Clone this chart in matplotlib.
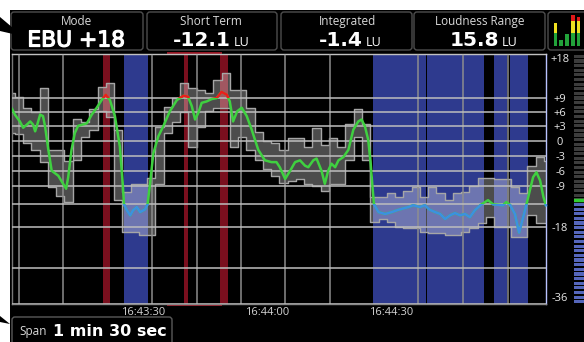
import numpy as np
import matplotlib
matplotlib.use('Agg')
import matplotlib.pyplot as plt
import matplotlib.patheffects as pe
from matplotlib.patches import Rectangle, FancyBboxPatch, Polygon

W, H = 584, 342
plt.rcParams['font.family'] = ['Open Sans', 'DejaVu Sans']

# ---------------- data ----------------
mode_label = "EBU +18"
short_term = -12.1
integrated = -1.4
loudness_range = 15.8
span_text = "1 min 30 sec"

gate_level = -13.0      # below: blue
over_level = 9.0        # above: red

# loudness curve (seconds relative to 16:43:30, LU)
line_t = [-31.7, -31.0, -29.8, -29.0, -28.1, -27.3, -26.6, -26.1, -25.7, -24.9, -24.2, -23.7,
          -22.9, -22.1, -20.5, -19.3, -18.6, -18.1, -17.3, -16.5, -15.7, -13.6, -12.4, -11.2,
          -10.0, -9.0, -8.0, -6.8, -5.6, -4.9, -4.6, -3.9, -3.1, -2.4, -1.5, -0.7, 0.5, 1.1,
          1.7, 2.5, 3.7, 4.9, 6.5, 8.2, 9.8, 10.9, 11.8, 12.6, 13.4, 14.2, 15.4, 16.6, 17.8,
          19.0, 20.3, 21.0, 21.8, 22.8, 23.9, 25.1, 26.3, 27.9, 29.5, 31.1, 32.3, 33.1, 34.4,
          35.6, 36.8, 38.0, 39.2, 40.0, 41.2, 42.0, 43.2, 44.0, 44.8, 45.6, 46.5, 47.3, 48.5,
          49.7, 50.9, 52.1, 52.9, 53.7, 54.5, 55.1, 55.6, 55.9, 57.0, 58.6, 60.2, 61.8, 63.0,
          64.2, 65.4, 67.0, 68.2, 69.4, 70.7, 71.9, 73.1, 74.3, 75.5, 76.7, 77.9, 79.1, 80.3,
          81.9, 83.5, 84.7, 85.9, 87.1, 87.9, 88.8, 90.0, 91.0, 92.0, 92.8, 93.6, 94.4, 95.2,
          96.1, 96.9, 97.5]
line_v = [6.6, 5.4, 4.0, 2.7, 3.35, 4.0, 3.35, 1.95, 3.0, 5.4, 5.1, 3.0,
          -1.8, -5.9, -6.9, -8.6, -9.6, -7.2, -1.8, 1.6, 3.1, 3.6, 5.4, 6.85,
          8.5, 9.6, 8.5, 5.1, -1.15, -8.55, -13.0, -14.3, -15.4, -14.3, -13.6, -14.7, -14.1, -13.0,
          -8.55, -2.5, 0.9, 3.0, 6.1, 8.5, 9.4, 9.2, 7.2, 4.4, 5.8, 7.9, 8.2, 8.7, 8.9,
          10.2, 9.6, 8.2, 4.0, 6.1, 6.85, 5.1, 2.3, -1.8, -3.85, -4.2, -4.2, -5.2, -7.55,
          -5.9, -4.2, -3.85, -4.9, -5.2, -3.85, -3.5, -5.9, -8.55, -5.9, -4.5, -5.2, -3.85, -3.2,
          -1.8, 2.3, 4.0, 4.4, 3.0, 0.2, -4.5, -10.0, -13.0, -14.7, -15.1, -14.7, -14.2, -13.9,
          -13.6, -13.2, -13.6, -13.2, -14.2, -14.7, -15.1, -16.2, -15.4, -14.9, -15.4, -15.1, -15.8, -14.3,
          -13.0, -12.1, -13.0, -13.1, -13.2, -12.5, -13.1, -15.1, -19.3, -15.8, -13.0, -10.0, -7.2, -6.2,
          -7.9, -11.4, -13.2]

# min/max envelope (2 s steps)
band_t = [-32, -30, -28, -26, -24, -22, -20, -18, -16, -14, -12, -10, -8, -6, -4, -2, 0, 2, 4, 6,
          8, 10, 12, 14, 16, 18, 20, 22, 24, 26, 28, 30, 32, 34, 36, 38, 40, 42, 44, 46,
          48, 50, 52, 54, 56, 58, 60, 62, 64, 66, 68, 70, 72, 74, 76, 78, 80, 82, 84, 86,
          88, 90, 92, 94, 96, 98]
band_hi = [10.0, 9.1, 6.9, 5.9, 11.0, -1.8, -1.8, -3.9, 4.4, 3.8, 6.5, 11.2, 12.0, 2.3, -10.4, -8.5, -8.5, -7.3, 2.9, 7.1,
           8.9, 12.0, 11.0, 10.6, 10.0, 12.6, 14.1, 10.6, 10.6, 6.9, 1.9, 0.0, -0.4, -1.8, 0.6, 0.6, -1.2, 2.7, -0.8, 0.6,
           -1.2, 3.4, 6.5, 3.4, -11.5, -11.5, -10.6, -11.5, -10.0, -9.3, -11.5, -9.3, -10.6, -12.1, -10.6, -10.4, -8.9, -7.3, -7.3, -7.5,
           -7.5, -9.3, -10.6, -4.9, -3.2, -3.9]
band_lo = [1.7, 1.3, -0.4, -1.8, -4.25, -9.3, -11.1, -12.6, -3.85, 0.8, 2.3, 6.1, 5.0, -12.1, -19.2, -19.2, -19.9, -19.9, -8.5, 1.7,
           3.8, 5.9, -1.2, 2.9, 6.1, 6.9, 6.9, -1.2, 0.8, -1.8, -3.85, -5.5, -6.9, -8.3, -7.9, -7.5, -8.5, -8.9, -10.0, -8.5,
           -8.5, -3.85, 0.8, -3.85, -16.9, -16.1, -16.9, -18.0, -18.2, -18.2, -19.2, -19.4, -19.4, -19.9, -19.9, -19.2, -18.2, -17.0, -15.8, -18.0,
           -18.0, -20.4, -20.4, -15.4, -17.0, -17.0]

# highlighted time regions (start, end) in seconds
quiet_regions = [(-4.7, 1.1), (55.65, 68.5), (68.8, 82.5), (84.9, 88.2), (88.8, 93.2)]
loud_regions = [(-9.6, -8.0), (9.9, 10.9), (18.6, 20.6)]
loud_marker_range = (5.8, 19.1)

# axis ticks
y_ticks = [18, 9, 6, 3, 0, -3, -6, -9, -18, -36]
y_tick_labels = ['+18', '+9', '+6', '+3', '0', '-3', '-6', '-9', '-18', '-36']
y_extra_grid = [-13, -28]
x_ticks = [0, 30, 60]
x_tick_labels = ['16:43:30', '16:44:00', '16:44:30']
x_grid = [-30.0, -19.4, 2.2, 13.1, 23.7, 34.4, 45.2, 66.5, 77.4, 88.3]
x_range = (-31.7, 97.4)

# channel bars (fraction of meter height)
channel_levels = [0.72, 0.19, 0.375, 0.96, 0.90]

# ---------------- scale (EBU +18 display, non-uniform) ----------------
LU_KNOTS = [-36, -28, -18, -13, -9, -6, -3, 0, 3, 6, 9, 18]
POS_KNOTS = [-304, -268, -227.3, -204.3, -186, -171.3, -156, -140.7, -126.3, -111.7, -97.7, -54]


def fwd(v):
    return np.interp(np.asarray(v, dtype=float), LU_KNOTS, POS_KNOTS)


def inv(p):
    return np.interp(np.asarray(p, dtype=float), POS_KNOTS, LU_KNOTS)


fig = plt.figure(figsize=(W / 100, H / 100), dpi=100, facecolor='white')

# ---------------- background / frame axes in pixel coordinates ----------------
bg = fig.add_axes([0, 0, 1, 1])
bg.set_zorder(-1)
bg.set_xlim(0, W)
bg.set_ylim(H, 0)
bg.axis('off')
bg.add_patch(Rectangle((10, 10), W, H, facecolor='black', edgecolor='none'))

boxes = [(11, 143), (147, 277), (281, 412), (414, 545), (548, 600)]
for x0, x1 in boxes:
    bg.add_patch(FancyBboxPatch((x0, 12), x1 - x0, 38, boxstyle='round,pad=0,rounding_size=3',
                                facecolor='black', edgecolor='#4d4d4d', lw=1))

lab_col = '#d9d9d9'
NUM_FONT = ['DejaVu Sans']
bold_fx = [pe.withStroke(linewidth=0.9, foreground='white')]
bg.text(77, 21.5, 'Mode', color=lab_col, fontsize=8.5, ha='center', va='center')
bg.text(76, 46.5, mode_label, color='white', fontsize=15.7, ha='center', va='baseline',
        family=NUM_FONT, path_effects=bold_fx)

heads = [('Short Term', 211, short_term, 231), ('Integrated', 347, integrated, 363),
         ('Loudness Range', 480, loudness_range, 499)]
for title, cx, val, rx in heads:
    bg.text(cx, 21.5, title, color=lab_col, fontsize=8.5, ha='center', va='center')
    bg.text(rx, 46.5, f'{val:.1f}', color='white', fontsize=14.5, fontweight='bold',
            ha='right', va='baseline', family=NUM_FONT)
    bg.text(rx + 2.5, 46.5, 'LU', color='white', fontsize=9, ha='left', va='baseline')

# span box
bg.add_patch(FancyBboxPatch((12, 317), 160, 30, boxstyle='round,pad=0,rounding_size=3',
                            facecolor='black', edgecolor='#5a5a5a', lw=1))
bg.text(19, 331, 'Span', color=lab_col, fontsize=8.5, ha='left', va='center')
bg.text(53, 331, span_text, color='white', fontsize=11.5, fontweight='bold', ha='left', va='center',
        family=NUM_FONT)

# callout arrows
bg.add_patch(Polygon([(0, 17), (13, 28), (24, 32), (13, 34), (0, 31)], closed=True,
                     facecolor='black', edgecolor='none'))
bg.add_patch(Polygon([(0, 316), (10, 324), (0, 322)], closed=True, facecolor='black', edgecolor='none'))

# ---------------- main plot ----------------
ax = fig.add_axes([12 / W, 1 - 304 / H, (545.5 - 12) / W, 250 / H])
ax.set_facecolor('black')
ax.set_yscale('function', functions=(fwd, inv))
ax.set_ylim(-36, 18)
ax.set_xlim(*x_range)

for a, b in quiet_regions:
    ax.axvspan(a, b, color='#2e3a8e', lw=0, zorder=1)
for a, b in loud_regions:
    ax.axvspan(a, b, color='#7a0f1e', lw=0, zorder=1)

ax.fill_between(band_t, band_lo, band_hi, step='mid', facecolor='white', alpha=0.30, lw=0, zorder=2)
ax.step(band_t, band_hi, where='mid', color='#a6a6a6', lw=1.0, zorder=2.2)
ax.step(band_t, band_lo, where='mid', color='#a6a6a6', lw=1.0, zorder=2.2)

ax.set_axisbelow(False)
ax.set_yticks(y_ticks, y_tick_labels)
ax.set_yticks(y_extra_grid, minor=True)
ax.set_xticks(x_ticks, x_tick_labels)
ax.set_xticks(x_grid, minor=True)
ax.grid(True, axis='y', which='both', color='#bdbdbd', lw=1.3, alpha=0.85)
ax.grid(True, axis='x', which='minor', color='#8f8f8f', lw=1.2, alpha=0.9)
ax.grid(False, axis='x', which='major')

ax.plot(line_t, line_v, color='#3fd040', lw=1.8, zorder=5, solid_joinstyle='round')
ln_b, = ax.plot(line_t, line_v, color='#3c8fe2', lw=1.8, zorder=5.1, solid_joinstyle='round')
ln_b.set_clip_path(Rectangle((x_range[0] - 5, -36), 200, gate_level + 36, transform=ax.transData))
ln_r, = ax.plot(line_t, line_v, color='#ee1c1c', lw=1.8, zorder=5.2, solid_joinstyle='round')
ln_r.set_clip_path(Rectangle((x_range[0] - 5, over_level), 200, 18 - over_level, transform=ax.transData))

ax.yaxis.tick_right()
ax.tick_params(axis='both', which='both', length=0)
ax.tick_params(axis='y', labelright=True, labelleft=False, pad=10.5, labelcolor='#e8e8e8', labelsize=8)
ax.tick_params(axis='x', pad=2.5, labelcolor='#d4d4d4', labelsize=8)
ylabels = ax.get_yticklabels()
for lbl in ylabels:
    lbl.set_horizontalalignment('center')
ylabels[0].set_verticalalignment('top')
ylabels[-1].set_verticalalignment('bottom')
for sp, c in [('left', '#777777'), ('bottom', '#8a8a8a'), ('top', '#d0d0d0'), ('right', '#b8c2ff')]:
    ax.spines[sp].set_color(c)
    ax.spines[sp].set_linewidth(1.0)

# overload marker just outside the top and bottom frame (x from the plot's data scale)
to_bg = ax.transData + bg.transData.inverted()
(mx0, _), (mx1, _) = to_bg.transform([(loud_marker_range[0], 0.0), (loud_marker_range[1], 0.0)])
(_, ytop), (_, ybot) = (ax.transAxes + bg.transData.inverted()).transform([(0, 1), (0, 0)])
for yy in (ytop - 1.2, ybot + 1.2):
    bg.plot([mx0, mx1], [yy, yy], color='#b01a2a', lw=1.2, solid_capstyle='butt')

# ---------------- right level meter ----------------
axm = fig.add_axes([573.5 / W, 1 - 304 / H, 10.5 / W, 250 / H])
axm.set_yscale('function', functions=(fwd, inv))
axm.set_ylim(-36, 18)
axm.set_xlim(0, 1)
axm.axis('off')
n_seg = 54
for i in range(n_seg):
    y0 = i / n_seg
    mid_lu = inv(fwd(-36) + (y0 + 0.5 / n_seg) * (fwd(18) - fwd(-36)))
    col = '#5566bb' if mid_lu < short_term else '#3c3c3c'
    axm.add_patch(Rectangle((0, y0 + 0.15 / n_seg), 1, 0.68 / n_seg, transform=axm.transAxes,
                            facecolor=col, edgecolor='none'))
axm.axhline(short_term, color='#33cc33', lw=2.5)

# ---------------- top-right channel meter ----------------
axc = fig.add_axes([552 / W, 1 - 46 / H, 30 / W, 32 / H])
axc.set_xlim(-0.6, 4.6)
axc.set_ylim(0, 1)
axc.axis('off')
g_top, y_top = 0.40, 0.78
for i, lev in enumerate(channel_levels):
    axc.bar(i, min(lev, g_top), width=0.62, color='#22a33a', bottom=0)
    if lev > g_top:
        axc.bar(i, min(lev, y_top) - g_top, width=0.62, color='#f0e020', bottom=g_top)
    if lev > y_top:
        axc.bar(i, lev - y_top, width=0.62, color='#e01818', bottom=y_top)

fig.savefig('out.png', dpi=100, facecolor='white')
